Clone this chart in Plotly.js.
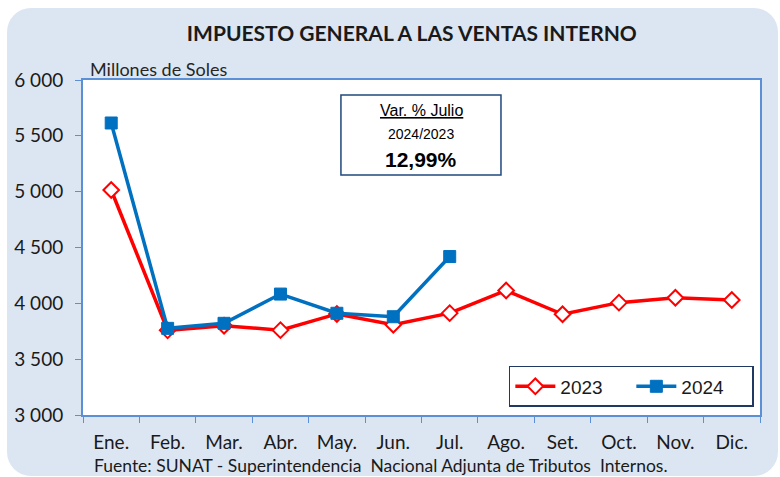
<!DOCTYPE html>
<html>
<head>
<meta charset="utf-8">
<script src="https://cdn.plot.ly/plotly-3.0.1.min.js"></script>
<style>
html,body{margin:0;padding:0;background:#ffffff;}
#wrap{position:relative;width:780px;height:477px;overflow:hidden;}
#panel{position:absolute;left:7px;top:8px;width:771px;height:468px;background:#dce6f2;border-radius:24px;}
#chart{position:absolute;left:0;top:0;width:780px;height:477px;}
</style>
</head>
<body>
<div id="wrap"><div id="panel"></div><div id="chart"></div></div>
<script>
const months = ["Ene.","Feb.","Mar.","Abr.","May.","Jun.","Jul.","Ago.","Set.","Oct.","Nov.","Dic."];
const values2023 = [5015,3758,3800,3760,3905,3808,3912,4115,3902,4006,4050,4030];
const months2024 = ["Ene.","Feb.","Mar.","Abr.","May.","Jun.","Jul."];
const values2024 = [5615,3776,3821,4083,3911,3880,4419];
const yTicks = [3000,3500,4000,4500,5000,5500,6000];
const titleText = "IMPUESTO GENERAL A LAS VENTAS INTERNO";
const unitText = "Millones de Soles";
const sourceText = "Fuente: SUNAT - Superintendencia  Nacional Adjunta de Tributos  Internos.";
const boxLines = ["Var. % Julio","2024/2023","12,99%"];

const calib = "Lato, 'Open Sans', sans-serif";
const arial = "'Liberation Sans', Arial, sans-serif";

const traces = [
  {
    x: months, y: values2023, name: "2023", type: "scatter", mode: "lines+markers",
    line: {color: "#ff0000", width: 3.5},
    marker: {symbol: "diamond", size: 12, color: "#ffffff", line: {color: "#ff0000", width: 2}}
  },
  {
    x: months2024, y: values2024, name: "2024", type: "scatter", mode: "lines+markers",
    line: {color: "#0070c0", width: 3.5},
    marker: {symbol: "square", size: 12, color: "#0070c0", line: {color: "#0070c0", width: 1}}
  }
];

const layout = {
  width: 780, height: 477,
  margin: {l: 83, r: 20, t: 80, b: 62, autoexpand: false},
  paper_bgcolor: "rgba(0,0,0,0)",
  plot_bgcolor: "#ffffff",
  separators: ", ",
  showlegend: true,
  title: {text: "<b>" + titleText + "</b>", font: {family: calib, size: 21, color: "#1a1a1a"}, x: 0.528, xanchor: "center", y: 0.93, yanchor: "middle"},
  xaxis: {
    type: "category", categoryarray: months, range: [-0.5, 11.5],
    showline: true, linecolor: "#5b8fd6", linewidth: 2, mirror: true,
    ticks: "outside", tickson: "boundaries", ticklen: 6, tickcolor: "#5b8fd6", tickwidth: 1,
    ticklabelstandoff: 9, tickangle: 0, automargin: false,
    showgrid: false, zeroline: false, fixedrange: true,
    tickfont: {family: calib, size: 19, color: "#1a1a1a"}
  },
  yaxis: {
    range: [3000, 6000], tickvals: yTicks, tickformat: ",d",
    showline: true, linecolor: "#5b8fd6", linewidth: 2, mirror: true,
    ticks: "outside", ticklen: 6, tickcolor: "#5b8fd6", tickwidth: 1,
    ticklabelstandoff: 8, automargin: false,
    showgrid: false, zeroline: false, fixedrange: true,
    tickfont: {family: calib, size: 19, color: "#1a1a1a"}
  },
  legend: {
    orientation: "h", x: 0.629, xanchor: "left", y: 0.024, yanchor: "bottom",
    bgcolor: "#ffffff", bordercolor: "#1f3864", borderwidth: 1.5,
    font: {family: arial, size: 19, color: "#1a1a1a"},
    itemwidth: 40, entrywidth: 66, tracegroupgap: 0
  },
  shapes: [
    {type: "rect", xref: "paper", yref: "paper", x0: 0.381, x1: 0.6174, y0: 0.7164, y1: 0.9552,
     line: {color: "#1f497d", width: 1.5}, fillcolor: "#ffffff", layer: "above"}
  ],
  annotations: [
    {text: "<u>" + boxLines[0] + "</u>", xref: "paper", yref: "paper", x: 0.4993, y: 0.9104, showarrow: false,
     xanchor: "center", yanchor: "middle", font: {family: arial, size: 16, color: "#000000"}},
    {text: boxLines[1], xref: "paper", yref: "paper", x: 0.4993, y: 0.8388, showarrow: false,
     xanchor: "center", yanchor: "middle", font: {family: arial, size: 14, color: "#000000"}},
    {text: "<b>" + boxLines[2] + "</b>", xref: "paper", yref: "paper", x: 0.4993, y: 0.7612, showarrow: false,
     xanchor: "center", yanchor: "middle", font: {family: arial, size: 21, color: "#000000"}},
    {text: unitText, xref: "paper", yref: "paper", x: 5/677, y: 1.033, showarrow: false,
     xanchor: "left", yanchor: "middle", font: {family: calib, size: 18, color: "#262626"}},
    {text: sourceText, xref: "paper", yref: "paper", x: 9/677, y: -0.152, showarrow: false,
     xanchor: "left", yanchor: "middle", font: {family: calib, size: 17.5, color: "#1a1a1a"}}
  ]
};

Plotly.newPlot("chart", traces, layout, {displayModeBar: false, staticPlot: true});
</script>
</body>
</html>
